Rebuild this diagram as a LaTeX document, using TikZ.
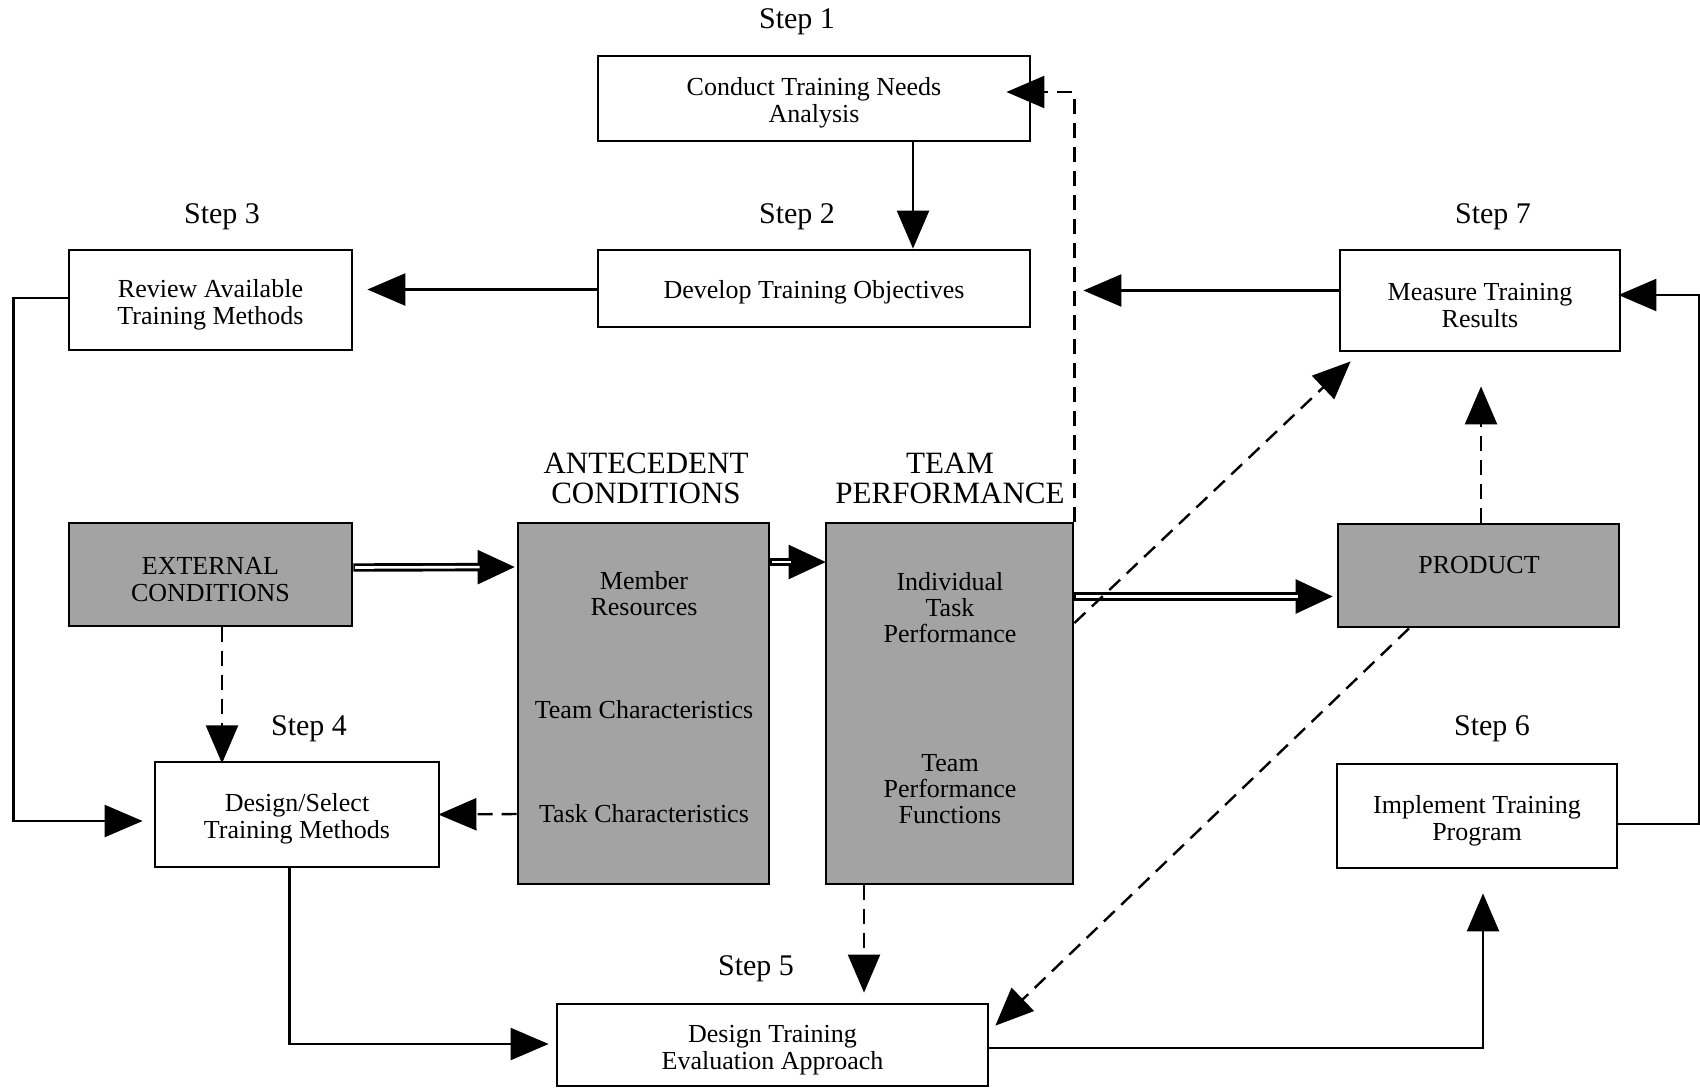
\documentclass[tikz,border=0pt]{standalone}
\usepackage{fontspec}
\setmainfont{Liberation Serif}
\usetikzlibrary{arrows.meta,calc}
\begin{document}
\begin{tikzpicture}[x=0.5pt,y=-0.5pt,
  box/.style={draw,line width=1.4pt,inner sep=0pt,align=center,text height=26.8pt,font=\fontsize{13}{13.5}\selectfont},
  onebox/.style={box,text height=13pt},
  shadebox/.style={box,fill=black!36},
  intext/.style={inner sep=0pt,align=center,font=\fontsize{13}{13}\selectfont},
  steplbl/.style={inner sep=0pt,font=\fontsize{15}{16}\selectfont},
  headlbl/.style={inner sep=0pt,align=center,font=\fontsize{15.5}{15}\selectfont},
  conn/.style={line width=1.2pt,-{Triangle[length=19pt,width=16pt]}},
  dconn/.style={conn,dash pattern=on 7.5pt off 4.5pt},
  dblconn/.style={line width=4.2pt,-{Triangle[length=19pt,width=16pt]},
     postaction={draw=white,line width=1.3pt,-,shorten >=18pt,shorten <=0.8pt}},
]
\fill[white] (0,0) rectangle (1700,1088);
\useasboundingbox (0,0) rectangle (1700,1088);

% step boxes
\node[box,minimum width=216pt,minimum height=42.5pt] (s1) at (814,98.5) {Conduct Training Needs\\Analysis};
\node[onebox,minimum width=216pt,minimum height=38.5pt] (s2) at (814,288.5) {Develop Training Objectives};
\node[box,minimum width=141.5pt,minimum height=50pt] (s3) at (210.5,300) {Review Available\\Training Methods};
\node[box,minimum width=142pt,minimum height=52.5pt] (s4) at (297,814.5) {Design/Select\\Training Methods};
\node[box,minimum width=215.5pt,minimum height=41pt] (s5) at (772.5,1045) {Design Training\\Evaluation Approach};
\node[box,minimum width=140pt,minimum height=52pt] (s6) at (1477,816) {Implement Training\\Program};
\node[box,minimum width=140pt,minimum height=50.5pt] (s7) at (1480,300.5) {Measure Training\\Results};

% shaded boxes
\node[shadebox,minimum width=141.5pt,minimum height=51.5pt] (ext) at (210.5,574.5) {EXTERNAL\\CONDITIONS};
\node[shadebox,minimum width=125.5pt,minimum height=180.5pt] (ant) at (643.5,703.5) {};
\node[shadebox,minimum width=123.5pt,minimum height=180.5pt] (tp) at (949.5,703.5) {};
\node[shadebox,minimum width=140.5pt,minimum height=51.5pt] (prod) at (1478.5,575.5) {};
\node[intext] (mr) at (644,594) {Member\\Resources};
\node[intext] (tc) at (644,710) {Team Characteristics};
\node[intext] (tkc) at (644,814) {Task Characteristics};
\node[intext] (itp) at (950,608) {Individual\\Task\\Performance};
\node[intext] (tpf) at (950,789) {Team\\Performance\\Functions};
\node[intext] (prodt) at (1479,565) {PRODUCT};

% headers
\node[headlbl] (anth) at (646,478) {ANTECEDENT\\CONDITIONS};
\node[headlbl] (tph) at (950,478) {TEAM\\PERFORMANCE};

% step labels
\node[steplbl] (l1) at (797,22) {Step 1};
\node[steplbl] (l2) at (797,217) {Step 2};
\node[steplbl] (l3) at (222,217) {Step 3};
\node[steplbl] (l4) at (309,729) {Step 4};
\node[steplbl] (l5) at (756,969) {Step 5};
\node[steplbl] (l6) at (1492,729) {Step 6};
\node[steplbl] (l7) at (1493,217) {Step 7};

% solid connectors
\draw[conn] ($(s1.south)+(99,0)$) -- ($(s2.north)+(99,0)$);
\draw[conn,shorten >=7pt] ($(s2.west)+(0,1)$) -- ($(s3.east)+(0,-10.5)$);
\draw[conn,shorten >=5.5pt] ($(s3.west)+(0,-2)$) -- ++(-54,0) |- ($(s4.west)+(0,6.5)$);
\draw[conn,shorten >=3.5pt] ($(s4.south)+(-7.5,0)$) |- ($(s5.west)+(0,-1)$);
\draw[conn,shorten >=12pt] ($(s5.east)+(0,3)$) -| ($(s6.south)+(6,0)$);
\draw[conn,shorten >=-1.5pt] ($(s6.east)+(0,8)$) -- ++(81,0) |- ($(s7.east)+(0,-5.5)$);
\coordinate (fb) at ($(tp.north east |- s7.west)+(0,-10)$);
\draw[conn,shorten >=4.5pt] ($(s7.west)+(0,-10)$) -- (fb);

% double connectors
\draw[dblconn] ($(ext.east)+(0,-7)$) -- ($(ant.west)+(-1,-136.5)$);
\draw[dblconn] ($(ant.east)+(0,-141.5)$) -- ($(tp.west)+(2,-141.5)$);
\draw[dblconn] ($(tp.east)+(0,-107)$) -- ($(prod.west)+(-3,21)$);

% dashed connectors
\draw[dconn] ($(ext.south)+(11.5,0)$) -- ++(0,136);
\draw[dconn,shorten >=-1pt] ($(ant.west)+(0,110.5)$) -- (s4.east);
\draw[dconn,shorten >=5pt] ($(tp.south)+(-85.5,0)$) -- ($(s5.north)+(91.5,0)$);
\draw[dconn,shorten >=-12.5pt] (tp.north east) |- ($(s1.east)+(0,-6.5)$);
\draw[dconn,shorten >=17pt] ($(prod.north)+(2.5,0)$) -- ($(s7.south)+(1,0)$);
\draw[dconn] ($(tp.east)+(0,-80.5)$) -- ($(s7.south west)+(12,9)$);
\draw[dconn] ($(prod.south)+(-69.5,0)$) -- ($(s5.north east)+(6,23)$);
\end{tikzpicture}
\end{document}
